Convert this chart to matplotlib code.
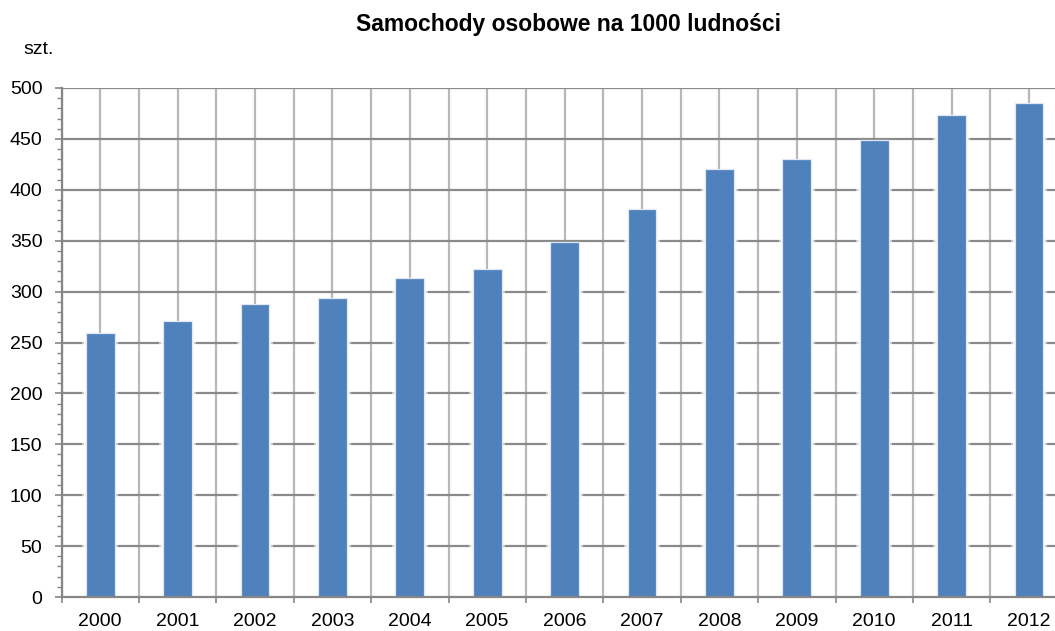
import matplotlib
matplotlib.use("Agg")
import matplotlib.pyplot as plt
import numpy as np
from matplotlib.ticker import MultipleLocator, FixedLocator

years = ["2000", "2001", "2002", "2003", "2004", "2005", "2006",
         "2007", "2008", "2009", "2010", "2011", "2012"]
values = [259, 271, 288, 294, 313, 322, 349, 381, 420, 430, 449, 473, 485]
title = "Samochody osobowe na 1000 ludności"
unit = "szt."

plt.rcParams['font.family'] = ['Liberation Sans', 'DejaVu Sans']

W, H = 1055, 631
fig = plt.figure(figsize=(W / 100, H / 100), dpi=100)
left_px, right_px, top_px, bot_px = 61.5, 61.5 + 13 * 77.4, 88, 597
ax = fig.add_axes([left_px / W, 1 - bot_px / H, (right_px - left_px) / W, (bot_px - top_px) / H])

x = np.arange(len(years))
bw = 0.37

# grid
for b in np.arange(-0.5, len(years) + 0.5, 0.5):
    ax.axvline(b, color='#b8b8b8', lw=1.6, zorder=1)
for yv in range(50, 501, 50):
    ax.axhline(yv, color='#8a8a8a', lw=1.6, zorder=2)

# glow
ax.bar(x, values, width=bw + 0.10, color='white', alpha=0.55, zorder=3, linewidth=0)
ax.bar(x, values, width=bw + 0.05, color='white', alpha=0.8, zorder=3, linewidth=0)
ax.bar(x, values, width=bw, color='#4f81bd', edgecolor='#dfe8f3', linewidth=0.9, zorder=4)

ax.set_xlim(-0.5, len(years) - 0.5)
ax.set_ylim(0, 500)

ax.yaxis.set_major_locator(MultipleLocator(50))
ax.yaxis.set_minor_locator(MultipleLocator(10))
ax.set_xticks(x)
ax.set_xticklabels(years)
ax.xaxis.set_minor_locator(FixedLocator(np.arange(-0.5, len(years), 1.0)))
ax.tick_params(axis='x', which='major', length=0, pad=11.5, labelsize=14)
ax.tick_params(axis='x', which='minor', length=4, width=1.2, color='#868686', direction='out')
ax.tick_params(axis='y', which='major', length=5.2, width=1.2, color='#868686', pad=8.5, labelsize=14)
ax.tick_params(axis='y', which='minor', length=3.5, width=1.0, color='#868686')

for s in ['top', 'right']:
    ax.spines[s].set_visible(False)
for s in ['left', 'bottom']:
    ax.spines[s].set_color('#868686')
    ax.spines[s].set_linewidth(1.6)
    ax.spines[s].set_zorder(5)

fig.text(568.5 / W, 1 - 31.5 / H, title, ha='center', va='baseline', fontsize=16.5, fontweight='bold')
fig.text(23 / W, 1 - 53.5 / H, unit, ha='left', va='baseline', fontsize=14)

fig.savefig("out.png", dpi=100)
